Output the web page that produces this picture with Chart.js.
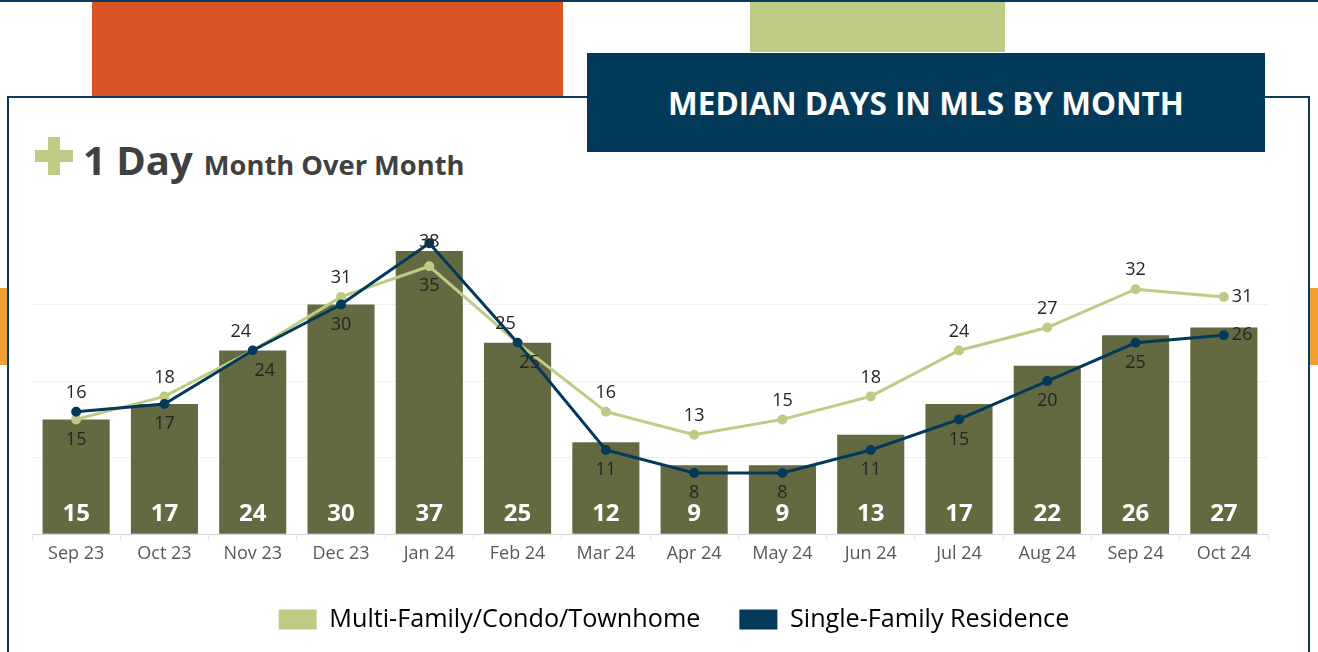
<!DOCTYPE html>
<html>
<head>
<meta charset="utf-8">
<script src="https://cdn.jsdelivr.net/npm/chart.js@4.4.1/dist/chart.umd.min.js"></script>
<style>
  html, body { margin: 0; padding: 0; background: #fff; }
  body { width: 1318px; height: 652px; position: relative; overflow: hidden; font-family: 'Open Sans', sans-serif; }
  .topline { position: absolute; left: 0; top: 0; width: 1318px; height: 2px; background: #0b3a5a; }
  .orange { position: absolute; left: 92px; top: 2px; width: 471px; height: 95px; background: #dc5426; }
  .green { position: absolute; left: 750px; top: 2px; width: 255px; height: 50px; background: #bdcb85; }
  .tab { position: absolute; top: 288px; width: 8px; height: 77px; background: #f0a030; }
  .box { position: absolute; left: 7px; top: 96px; width: 1303px; height: 560px; border: 2px solid #0b3a5a; box-sizing: border-box; background: #fff; }
  .titlebox { position: absolute; left: 587px; top: 53px; width: 678px; height: 99px; background: #033a5a; color: #fff;
    font-weight: bold; font-size: 31.5px; display: flex; align-items: center; justify-content: center; }
  .plus-v { position: absolute; left: 48px; top: 137px; width: 12px; height: 38px; background: #bdcb85; }
  .plus-h { position: absolute; left: 35px; top: 150px; width: 38px; height: 12px; background: #bdcb85; }
  .heading { position: absolute; left: 83px; top: 132px; color: #404040; font-weight: bold; white-space: nowrap; }
  .heading .big { font-size: 40px; }
  .heading .small { font-size: 27.3px; margin-left: 11px; }
  #wrap { position: absolute; left: 9px; top: 190px; width: 1300px; height: 452px; }
</style>
</head>
<body>
<div class="topline"></div>
<div class="orange"></div>
<div class="green"></div>
<div class="tab" style="left:0"></div>
<div class="tab" style="left:1310px"></div>
<div class="box"></div>
<div class="titlebox">MEDIAN DAYS IN MLS BY MONTH</div>
<div class="plus-v"></div>
<div class="plus-h"></div>
<div class="heading"><span class="big">1 Day</span><span class="small">Month Over Month</span></div>
<div id="wrap"><canvas id="chart"></canvas></div>
<script>
const months = ['Sep 23','Oct 23','Nov 23','Dec 23','Jan 24','Feb 24','Mar 24','Apr 24','May 24','Jun 24','Jul 24','Aug 24','Sep 24','Oct 24'];
const overall = [15, 17, 24, 30, 37, 25, 12, 9, 9, 13, 17, 22, 26, 27];
const multiFamily = [15, 18, 24, 31, 35, 25, 16, 13, 15, 18, 24, 27, 32, 31];
const singleFamily = [16, 17, 24, 30, 38, 25, 11, 8, 8, 11, 15, 20, 25, 26];

const BAR = '#636a42';
const LIGHT = '#bdcb85';
const NAVY = '#033a5a';

// value labels: higher line above its point, lower line below
const labelPlugin = {
  id: 'labels',
  afterLayout(chart) {
    // legend sits a little right of centre in the original
    if (chart.legend) { chart.legend.left += 24; chart.legend.right += 24; }
  },
  afterDatasetsDraw(chart) {
    const ctx = chart.ctx;
    const area = chart.chartArea;
    const bars = chart.getDatasetMeta(0).data;
    ctx.save();
    ctx.textAlign = 'center';
    ctx.textBaseline = 'middle';
    ctx.fillStyle = '#ffffff';
    ctx.font = "bold 24px 'Open Sans'";
    bars.forEach((b, i) => {
      ctx.fillText(String(overall[i]), b.x, area.bottom - 20);
    });
    const gPts = chart.getDatasetMeta(1).data;
    const nPts = chart.getDatasetMeta(2).data;
    ctx.fillStyle = '#252525';
    ctx.font = "18px 'Open Sans'";
    const last = months.length - 1;
    for (let i = 0; i < months.length; i++) {
      const g = gPts[i], n = nPts[i];
      if (i === last) {
        ctx.textAlign = 'left';
        ctx.fillText(String(multiFamily[i]), g.x + 8, g.y);
        ctx.fillText(String(singleFamily[i]), n.x + 8, n.y);
        continue;
      }
      ctx.textAlign = 'center';
      let up, down, upV, downV;
      if (multiFamily[i] >= singleFamily[i]) { up = g; down = n; upV = multiFamily[i]; downV = singleFamily[i]; }
      else { up = n; down = g; upV = singleFamily[i]; downV = multiFamily[i]; }
      const dx = multiFamily[i] === singleFamily[i] ? 12 : 0;
      ctx.fillText(String(upV), up.x - dx, Math.max(up.y - 19, area.top + 14));
      ctx.fillText(String(downV), down.x + dx, down.y + 20);
    }
    ctx.restore();
  }
};

new Chart(document.getElementById('chart'), {
  data: {
    labels: months,
    datasets: [
      { type: 'bar', label: 'All', data: overall, backgroundColor: BAR, barPercentage: 0.76, categoryPercentage: 1, order: 3 },
      { type: 'line', label: 'Multi-Family/Condo/Townhome', data: multiFamily, borderColor: LIGHT, backgroundColor: LIGHT,
        borderWidth: 3, pointRadius: 3.5, pointBackgroundColor: LIGHT, tension: 0, order: 2 },
      { type: 'line', label: 'Single-Family Residence', data: singleFamily, borderColor: NAVY, backgroundColor: NAVY,
        borderWidth: 3, pointRadius: 3.5, pointBackgroundColor: NAVY, tension: 0, order: 1 }
    ]
  },
  options: {
    responsive: true,
    maintainAspectRatio: false,
    animation: false,
    layout: { padding: { left: 23, right: 41, top: 38, bottom: 0 } },
    plugins: {
      tooltip: { enabled: false },
      legend: {
        position: 'bottom',
        labels: {
          filter: (item) => item.datasetIndex !== 0,
          boxWidth: 38, boxHeight: 20, padding: 39,
          color: '#404040',
          font: { family: "'Open Sans'", size: 25.2 },
          generateLabels(chart) {
            return chart.data.datasets.map((d, i) => ({
              text: d.label, fillStyle: d.borderColor, strokeStyle: d.borderColor, lineWidth: 0, datasetIndex: i, hidden: false
            }));
          }
        }
      }
    },
    scales: {
      x: {
        grid: { display: true, drawOnChartArea: false, offset: true, tickLength: 6, color: '#e6e6e6' },
        border: { color: '#d9d9d9' },
        ticks: { color: '#595959', font: { family: "'Open Sans'", size: 18 }, padding: 3 }
      },
      y: {
        min: 0, max: 40,
        ticks: { display: false, stepSize: 10 },
        border: { display: false },
        grid: { color: (c) => (c.tick.value === 0 || c.tick.value === 40) ? 'rgba(0,0,0,0)' : '#f0f0f0', drawTicks: false }
      }
    }
  },
  plugins: [labelPlugin]
});
</script>
</body>
</html>
